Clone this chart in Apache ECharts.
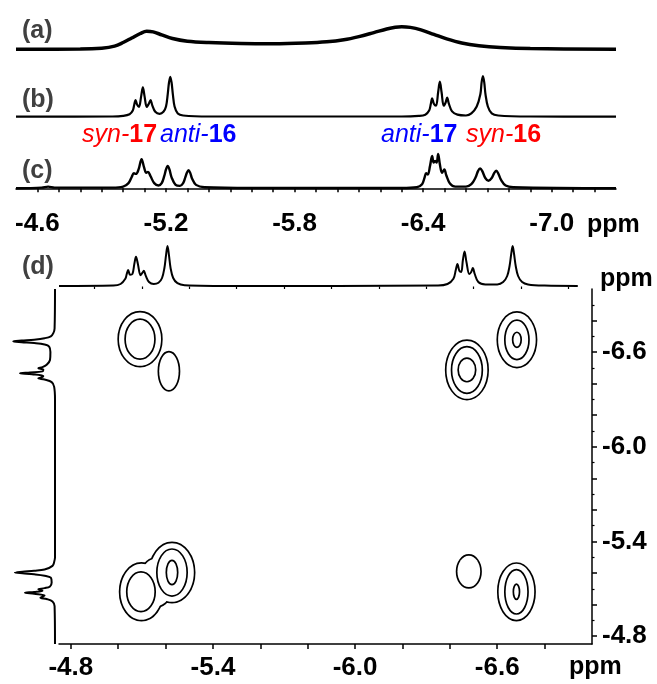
<!DOCTYPE html>
<html>
<head>
<meta charset="utf-8">
<script src="https://cdn.jsdelivr.net/npm/echarts@6/dist/echarts.min.js"></script>
<style>
  html, body { margin: 0; padding: 0; background: #fff; }
  #chart { width: 657px; height: 684px; }
</style>
</head>
<body>
<div id="chart"></div>
<script>
// 1D spectra (a)(b)(c): [ppm, relative intensity]
var specA = [[-4.50,0],[-4.80,0.01],[-4.90,0.05],[-4.96,0.14],[-5.00,0.30],[-5.04,0.50],[-5.08,0.70],[-5.11,0.80],[-5.14,0.77],[-5.18,0.64],[-5.23,0.48],[-5.30,0.36],[-5.40,0.30],[-5.55,0.26],[-5.70,0.25],[-5.85,0.28],[-5.95,0.33],[-6.03,0.42],[-6.10,0.56],[-6.17,0.74],[-6.23,0.90],[-6.27,0.98],[-6.30,1.00],[-6.34,0.97],[-6.39,0.86],[-6.45,0.66],[-6.51,0.46],[-6.58,0.28],[-6.66,0.16],[-6.76,0.08],[-6.90,0.03],[-7.30,0]];

var specB = [[-4.50,0],[-4.95,0.005],[-5.00,0.02],[-5.03,0.06],[-5.045,0.15],[-5.052,0.30],[-5.058,0.41],[-5.065,0.30],[-5.074,0.24],[-5.084,0.50],[-5.092,0.72],[-5.100,0.50],[-5.110,0.24],[-5.120,0.32],[-5.128,0.41],[-5.136,0.28],[-5.150,0.12],[-5.170,0.07],[-5.188,0.12],[-5.200,0.25],[-5.208,0.55],[-5.214,0.84],[-5.220,0.98],[-5.226,0.84],[-5.232,0.55],[-5.240,0.25],[-5.255,0.08],[-5.280,0.03],[-5.40,0.005],[-6.30,0.005],[-6.38,0.02],[-6.41,0.05],[-6.428,0.15],[-6.436,0.32],[-6.442,0.45],[-6.450,0.32],[-6.460,0.27],[-6.470,0.60],[-6.478,0.86],[-6.486,0.60],[-6.496,0.27],[-6.505,0.35],[-6.512,0.47],[-6.520,0.32],[-6.535,0.13],[-6.560,0.05],[-6.600,0.03],[-6.625,0.08],[-6.650,0.25],[-6.667,0.55],[-6.673,0.85],[-6.679,1.00],[-6.685,0.85],[-6.691,0.55],[-6.702,0.25],[-6.720,0.08],[-6.750,0.03],[-6.90,0.005],[-7.30,0]];

var specC = [[-4.50,0],[-4.62,0.02],[-4.65,0.05],[-4.68,0.02],[-4.95,0.02],[-5.00,0.05],[-5.025,0.15],[-5.040,0.33],[-5.050,0.44],[-5.060,0.42],[-5.072,0.55],[-5.086,0.85],[-5.098,0.60],[-5.108,0.45],[-5.116,0.48],[-5.128,0.35],[-5.145,0.15],[-5.165,0.08],[-5.180,0.15],[-5.192,0.36],[-5.200,0.55],[-5.208,0.65],[-5.216,0.55],[-5.226,0.32],[-5.245,0.10],[-5.265,0.07],[-5.280,0.15],[-5.290,0.32],[-5.298,0.46],[-5.305,0.53],[-5.313,0.45],[-5.322,0.28],[-5.340,0.10],[-5.380,0.03],[-5.60,0.01],[-6.30,0.01],[-6.37,0.03],[-6.395,0.12],[-6.407,0.32],[-6.414,0.44],[-6.422,0.40],[-6.432,0.65],[-6.442,0.94],[-6.449,0.75],[-6.456,0.80],[-6.463,0.75],[-6.470,1.00],[-6.478,0.70],[-6.488,0.45],[-6.499,0.55],[-6.508,0.38],[-6.525,0.14],[-6.550,0.05],[-6.600,0.05],[-6.625,0.12],[-6.645,0.32],[-6.656,0.50],[-6.666,0.58],[-6.676,0.50],[-6.690,0.30],[-6.705,0.22],[-6.720,0.30],[-6.732,0.45],[-6.741,0.51],[-6.750,0.44],[-6.763,0.25],[-6.785,0.08],[-6.820,0.03],[-7.30,0]];

// (d) projections: top [ppm, intensity], left [intensity, ppm]
var projTop = [[-4.75,0],[-4.98,0.01],[-5.01,0.05],[-5.03,0.18],[-5.036,0.30],[-5.042,0.40],[-5.050,0.28],[-5.060,0.30],[-5.068,0.55],[-5.075,0.73],[-5.083,0.55],[-5.094,0.27],[-5.102,0.33],[-5.108,0.38],[-5.116,0.26],[-5.130,0.10],[-5.150,0.05],[-5.170,0.08],[-5.185,0.20],[-5.195,0.45],[-5.202,0.78],[-5.208,1.00],[-5.214,0.78],[-5.221,0.45],[-5.232,0.20],[-5.250,0.07],[-5.280,0.02],[-5.50,0],[-6.35,0.01],[-6.39,0.05],[-6.415,0.18],[-6.425,0.40],[-6.432,0.55],[-6.440,0.38],[-6.448,0.35],[-6.455,0.65],[-6.462,0.86],[-6.470,0.60],[-6.482,0.30],[-6.490,0.35],[-6.497,0.45],[-6.505,0.30],[-6.520,0.10],[-6.550,0.04],[-6.600,0.04],[-6.625,0.10],[-6.642,0.25],[-6.652,0.50],[-6.659,0.80],[-6.665,1.00],[-6.671,0.80],[-6.678,0.50],[-6.688,0.25],[-6.705,0.10],[-6.730,0.04],[-6.80,0.01],[-6.94,0]];

var projLeft = [[0,-7.0],[0.01,-6.75],[0.04,-6.72],[0.10,-6.70],[0.25,-6.688],[0.50,-6.679],[0.80,-6.673],[1.00,-6.668],[0.80,-6.663],[0.50,-6.657],[0.25,-6.648],[0.14,-6.635],[0.11,-6.60],[0.12,-6.55],[0.20,-6.52],[0.30,-6.505],[0.40,-6.498],[0.28,-6.490],[0.30,-6.478],[0.60,-6.471],[0.84,-6.466],[0.55,-6.460],[0.28,-6.448],[0.32,-6.440],[0.40,-6.434],[0.25,-6.426],[0.08,-6.41],[0.02,-6.38],[0,-6.30],[0,-5.30],[0.02,-5.27],[0.06,-5.245],[0.25,-5.222],[0.50,-5.214],[0.78,-5.208],[0.96,-5.203],[0.78,-5.198],[0.50,-5.192],[0.25,-5.183],[0.10,-5.17],[0.08,-5.14],[0.12,-5.115],[0.25,-5.104],[0.40,-5.097],[0.30,-5.088],[0.50,-5.080],[0.72,-5.075],[0.50,-5.068],[0.25,-5.058],[0.30,-5.050],[0.35,-5.043],[0.20,-5.035],[0.06,-5.02],[0.01,-4.99],[0,-4.75]];

// 2D cross peaks as contour ellipses: [x ppm, y ppm, x radius ppm, y radius ppm]
var contourOuter = [[-5.092,-6.682,0.0886,0.169],[-5.214,-6.479,0.041,0.119],[-6.683,-6.678,0.0793,0.171],[-6.472,-6.487,0.086,0.183],[-5.098,-5.081,0.0885,0.178],[-5.160,-5.140,0.070,0.150],[-5.227,-5.203,0.092,0.186],[-6.480,-5.210,0.048,0.099],[-6.681,-5.081,0.075,0.177]];
var contourInner = [[-5.092,-6.682,0.063,0.127],[-6.683,-6.678,0.051,0.125],[-6.683,-6.678,0.018,0.048],[-6.472,-6.487,0.065,0.148],[-6.472,-6.487,0.037,0.075],[-5.096,-5.081,0.060,0.126],[-5.227,-5.203,0.064,0.149],[-5.227,-5.203,0.024,0.077],[-6.681,-5.081,0.049,0.141],[-6.681,-5.081,0.013,0.048]];

// tick values
var topTicks = [-4.6,-4.7,-4.8,-4.9,-5.0,-5.1,-5.2,-5.3,-5.4,-5.5,-5.6,-5.7,-5.8,-5.9,-6.0,-6.1,-6.2,-6.3,-6.4,-6.5,-6.6,-6.7,-6.8,-6.9,-7.0,-7.1,-7.2];
var topLabels = [-4.6,-5.2,-5.8,-6.4,-7.0];
var d2Major = [-4.8,-5.0,-5.2,-5.4,-5.6,-5.8,-6.0,-6.2,-6.4,-6.6,-6.8];
var d2Minor = [-4.9,-5.1,-5.3,-5.5,-5.7,-5.9,-6.1,-6.3,-6.5,-6.7,-6.9];
var d2Labels = [-4.8,-5.4,-6.0,-6.6];

var F = '"Liberation Sans", Arial, sans-serif';
var chart = echarts.init(document.getElementById('chart'));

function hidden(grid, min, max, inv) {
  return { type: 'value', gridIndex: grid, min: min, max: max, inverse: inv, show: false };
}
function lineSeries(xi, yi, data, w) {
  return { type: 'line', xAxisIndex: xi, yAxisIndex: yi, data: data, showSymbol: false, smooth: 0.35,
    clip: false, silent: true, lineStyle: { color: '#000', width: w } };
}
function ellipseSeries(data, style, z) {
  return {
    type: 'custom', xAxisIndex: 5, yAxisIndex: 5, data: data, silent: true, clip: false, z: z,
    renderItem: function (params, api) {
      var c = api.coord([api.value(0), api.value(1)]);
      var s = api.size([api.value(2), api.value(3)], [api.value(0), api.value(1)]);
      return { type: 'ellipse', shape: { cx: c[0], cy: c[1], rx: s[0], ry: s[1] }, style: style };
    }
  };
}
function label(text, x, y, color) {
  return { type: 'text', x: x, y: y, style: { text: text, font: 'bold 25px ' + F, fill: color, align: 'left', verticalAlign: 'middle' } };
}
function compound(prefix, num, x, y, color) {
  return { type: 'text', x: x, y: y, style: { text: '{i|' + prefix + '}{b|' + num + '}', align: 'left', verticalAlign: 'middle',
    rich: { i: { fontStyle: 'italic', fontSize: 25, fontFamily: F, fill: color },
            b: { fontWeight: 'bold', fontSize: 25, fontFamily: F, fill: color } } } };
}
function fmt(v) { return v.toFixed(1); }
var tickLabel = { fontSize: 26, fontWeight: 'bold', fontFamily: F, color: '#000', formatter: fmt };

var option = {
  animation: false,
  backgroundColor: '#fff',
  grid: [
    { left: 16, width: 600, top: 26.7, height: 22.6 },
    { left: 16, width: 600, top: 76, height: 40.7 },
    { left: 16, width: 600, top: 154, height: 34.3 },
    { left: 59, width: 533, top: 246, height: 40 },
    { left: 13.3, width: 41.7, top: 289, height: 355 },
    { left: 59, width: 533, top: 289, height: 355 }
  ],
  xAxis: [
    hidden(0, -7.3, -4.5, true),
    hidden(1, -7.3, -4.5, true),
    { type: 'value', gridIndex: 2, min: -7.3, max: -4.5, inverse: true, offset: 13.4,
      splitLine: { show: false },
      axisLine: { show: true, lineStyle: { color: '#000', width: 1.5 } },
      axisTick: { show: true, length: 4, customValues: topTicks, lineStyle: { color: '#000', width: 1.5 } },
      axisLabel: Object.assign({ margin: 9, customValues: topLabels }, tickLabel) },
    hidden(3, -7.0, -4.75, true),
    hidden(4, 0, 1, true),
    { type: 'value', gridIndex: 5, min: -7.0, max: -4.75, inverse: true,
      splitLine: { show: false },
      axisLine: { show: true, lineStyle: { color: '#000', width: 1.5 } },
      axisTick: { show: true, length: 5, customValues: d2Major, lineStyle: { color: '#000', width: 1.5 } },
      axisLabel: Object.assign({ margin: 11, customValues: d2Labels }, tickLabel) },
    { type: 'value', gridIndex: 5, min: -7.0, max: -4.75, inverse: true,
      splitLine: { show: false }, axisLine: { show: false },
      axisTick: { show: true, length: 2.5, customValues: d2Minor, lineStyle: { color: '#000', width: 1.2 } },
      axisLabel: { show: false } }
  ],
  yAxis: [
    hidden(0, 0, 1, false),
    hidden(1, 0, 1, false),
    hidden(2, 0, 1, false),
    hidden(3, 0, 1, false),
    hidden(4, -7.0, -4.75, true),
    { type: 'value', gridIndex: 5, min: -7.0, max: -4.75, inverse: true, position: 'right',
      splitLine: { show: false },
      axisLine: { show: true, lineStyle: { color: '#000', width: 1.5 } },
      axisTick: { show: true, length: 5, customValues: d2Major, lineStyle: { color: '#000', width: 1.5 } },
      axisLabel: Object.assign({ margin: 10, customValues: d2Labels }, tickLabel) },
    { type: 'value', gridIndex: 5, min: -7.0, max: -4.75, inverse: true, position: 'right',
      splitLine: { show: false }, axisLine: { show: false },
      axisTick: { show: true, length: 2.5, customValues: d2Minor, lineStyle: { color: '#000', width: 1.2 } },
      axisLabel: { show: false } }
  ],
  series: [
    lineSeries(0, 0, specA, 3.5),
    lineSeries(1, 1, specB, 2.2),
    lineSeries(2, 2, specC, 2.4),
    lineSeries(3, 3, projTop, 2),
    lineSeries(4, 4, projLeft, 2),
    ellipseSeries(contourOuter, { fill: 'none', stroke: '#000', lineWidth: 3.4 }, 2),
    ellipseSeries(contourOuter, { fill: '#fff', stroke: null }, 3),
    ellipseSeries(contourInner, { fill: 'none', stroke: '#000', lineWidth: 1.7 }, 4)
  ],
  graphic: [
    label('(a)', 22, 31, '#404040'),
    label('(b)', 22, 100, '#404040'),
    label('(c)', 22, 171, '#404040'),
    label('(d)', 22, 267, '#404040'),
    label('ppm', 587, 225, '#000'),
    label('ppm', 600, 279, '#000'),
    label('ppm', 569, 667, '#000'),
    compound('syn-', '17', 82, 135, '#ff0000'),
    compound('anti-', '16', 160, 135, '#0000ff'),
    compound('anti-', '17', 381, 135, '#0000ff'),
    compound('syn-', '16', 466, 135, '#ff0000')
  ]
};
chart.setOption(option);
</script>
</body>
</html>
